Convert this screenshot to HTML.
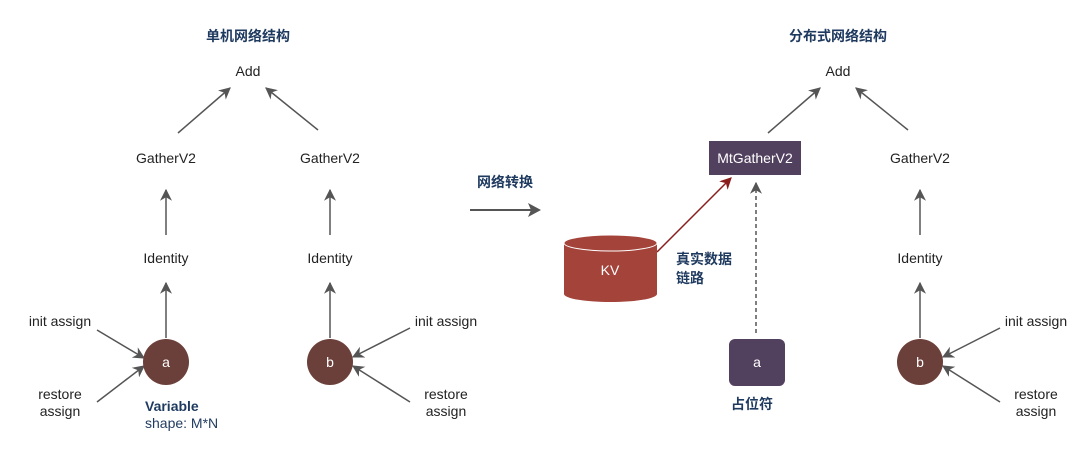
<!DOCTYPE html>
<html><head><meta charset="utf-8"><style>
body{margin:0;background:#fff}
svg text{font-family:"Liberation Sans","Noto Sans CJK SC",sans-serif}
</style></head><body>
<svg width="1080" height="449" viewBox="0 0 1080 449" xmlns="http://www.w3.org/2000/svg">
<defs>
<marker id="ah" viewBox="0 0 10 10" refX="9" refY="5" markerWidth="12" markerHeight="12" orient="auto" markerUnits="userSpaceOnUse"><path d="M0,0 L10,5 L0,10 L3,5 z" fill="#555"/></marker>
<marker id="ahr" viewBox="0 0 10 10" refX="9" refY="5" markerWidth="12" markerHeight="12" orient="auto" markerUnits="userSpaceOnUse"><path d="M0,0 L10,5 L0,10 L3,5 z" fill="#8b1c1c"/></marker>
</defs>
<g font-size="14" fill="#222" text-anchor="middle">
<text x="248" y="41" font-weight="bold" fill="#1f3a5f">单机网络结构</text>
<text x="838" y="41" font-weight="bold" fill="#1f3a5f">分布式网络结构</text>
<text x="248" y="76">Add</text><text x="838" y="76">Add</text>
<text x="166" y="163">GatherV2</text><text x="330" y="163">GatherV2</text><text x="920" y="163">GatherV2</text>
<text x="166" y="263">Identity</text><text x="330" y="263">Identity</text><text x="920" y="263">Identity</text>
<text x="60" y="326">init assign</text><text x="60" y="399">restore</text><text x="60" y="416">assign</text>
<text x="446" y="326">init assign</text><text x="446" y="399">restore</text><text x="446" y="416">assign</text>
<text x="1036" y="326">init assign</text><text x="1036" y="399">restore</text><text x="1036" y="416">assign</text>
<text x="505" y="187" font-weight="bold" fill="#1f3a5f">网络转换</text>
<text x="752" y="409" font-weight="bold" fill="#1f3a5f">占位符</text>
</g>
<text x="145" y="411" font-size="14" font-weight="bold" fill="#1f3a5f">Variable</text>
<text x="145" y="428" font-size="14" fill="#1f3a5f">shape: M*N</text>
<text x="676" y="264" font-size="14" font-weight="bold" fill="#1f3a5f">真实数据</text>
<text x="676" y="283" font-size="14" font-weight="bold" fill="#1f3a5f">链路</text>
<g stroke="#555" stroke-width="1.5" fill="none" marker-end="url(#ah)">
<line x1="178" y1="133" x2="230" y2="88"/><line x1="318" y1="130" x2="266" y2="88"/>
<line x1="768" y1="133" x2="820" y2="88"/><line x1="908" y1="130" x2="856" y2="88"/>
<line x1="166" y1="235" x2="166" y2="190"/><line x1="330" y1="235" x2="330" y2="190"/><line x1="920" y1="235" x2="920" y2="190"/>
<line x1="166" y1="338" x2="166" y2="283"/><line x1="330" y1="338" x2="330" y2="283"/><line x1="920" y1="338" x2="920" y2="283"/>
<line x1="97" y1="330" x2="144" y2="358"/><line x1="97" y1="402" x2="144" y2="366"/>
<line x1="410" y1="328" x2="353" y2="357"/><line x1="410" y1="402" x2="353" y2="366"/>
<line x1="1000" y1="328" x2="943" y2="357"/><line x1="1000" y1="402" x2="943" y2="366"/>
<line x1="756" y1="333" x2="756" y2="183" stroke-dasharray="4,3"/>
</g>
<line x1="470" y1="210" x2="536" y2="210" stroke="#555" stroke-width="2"/>
<path d="M528,203 L541,210 L528,217 L531,210 Z" fill="#555"/>
<line x1="657" y1="252" x2="731" y2="178" stroke="#8b1c1c" stroke-width="1.5" marker-end="url(#ahr)"/>
<g fill="#6b3f3a"><circle cx="166" cy="362" r="23"/><circle cx="330" cy="362" r="23"/><circle cx="920" cy="362" r="23"/></g>
<rect x="709" y="141" width="92" height="34" fill="#52405f"/>
<rect x="729" y="339" width="56" height="47" rx="6" fill="#52405f"/>
<path d="M564,243 L564,294 A46.5,8 0 0 0 657,294 L657,243 Z" fill="#a4433a"/>
<ellipse cx="610.5" cy="243" rx="46.5" ry="8" fill="#a4433a" stroke="#fff" stroke-width="1"/>
<g fill="#fff" font-size="14" text-anchor="middle">
<text x="166" y="367">a</text><text x="330" y="367">b</text><text x="920" y="367">b</text>
<text x="755" y="163">MtGatherV2</text><text x="757" y="367">a</text><text x="610" y="275">KV</text>
</g>
</svg>
</body></html>
